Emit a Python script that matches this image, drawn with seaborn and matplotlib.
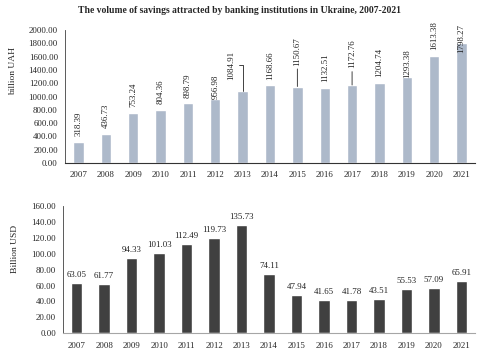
import matplotlib
matplotlib.use("Agg")
import matplotlib.pyplot as plt
import seaborn as sns
import pandas as pd

years = ["2007", "2008", "2009", "2010", "2011", "2012", "2013", "2014",
         "2015", "2016", "2017", "2018", "2019", "2020", "2021"]
uah_values = [318.39, 436.73, 753.24, 804.36, 898.79, 956.98, 1084.91, 1168.66,
              1150.67, 1132.51, 1172.76, 1204.74, 1293.38, 1613.38, 1798.27]
usd_values = [63.05, 61.77, 94.33, 101.03, 112.49, 119.73, 135.73, 74.11,
              47.94, 41.65, 41.78, 43.51, 55.53, 57.09, 65.91]
uah_ticks = [0, 200, 400, 600, 800, 1000, 1200, 1400, 1600, 1800, 2000]
usd_ticks = [0, 20, 40, 60, 80, 100, 120, 140, 160]

title = "The volume of savings attracted by banking institutions in Ukraine, 2007-2021"

sns.set_theme(style="white")
plt.rcParams["font.family"] = ["Liberation Serif", "DejaVu Serif"]

df = pd.DataFrame({"year": years, "uah": uah_values, "usd": usd_values})

fig = plt.figure(figsize=(4.8, 3.53), dpi=100)
ax1 = fig.add_axes([0.135, 0.538, 0.855, 0.377])
ax2 = fig.add_axes([0.131, 0.056, 0.859, 0.360])

sns.barplot(data=df, x="year", y="uah", color="#adb9ca", width=0.38,
            saturation=1, ax=ax1)
sns.barplot(data=df, x="year", y="usd", color="#404040", width=0.42,
            saturation=1, ax=ax2)

fs = 6.4
# label offsets (points): (dx, dy) for the rotated UAH labels
label_offsets = {"2012": (0, 0), "2019": (0, -1), "2021": (0, -7),
                 "2013": (-8, 8), "2015": (0, 15), "2017": (0, 12)}
leader_years = {"2013", "2015", "2017"}
for i, (yr, v) in enumerate(zip(years, uah_values)):
    dx, dy = label_offsets.get(yr, (0, 4))
    kw = {}
    if yr in leader_years:
        kw["arrowprops"] = dict(
            arrowstyle="-", color="#222222", lw=0.6, shrinkA=0, shrinkB=0,
            connectionstyle=("angle,angleA=0,angleB=90,rad=0"
                             if yr == "2013" else "arc3"))
    ax1.annotate(f"{v:.2f}", xy=(i, v), xytext=(dx, dy),
                 textcoords="offset points", rotation=90,
                 ha="center", va="bottom", fontsize=fs, color="#222222",
                 annotation_clip=False, **kw)

for i, v in enumerate(usd_values):
    ax2.annotate(f"{v:.2f}", xy=(i, v), xytext=(0, 3),
                 textcoords="offset points", ha="center", va="bottom",
                 fontsize=fs, color="#222222")

for ax, ticks, lab, lc in ((ax1, uah_ticks, "billion UAH", (-0.117, 0.69)),
                           (ax2, usd_ticks, "Billion USD", (-0.107, 0.66))):
    ax.set_ylim(ticks[0], ticks[-1])
    ax.set_yticks(ticks)
    ax.set_yticklabels([f"{t:.2f}" for t in ticks], fontsize=fs)
    ax.tick_params(axis="x", labelsize=fs, length=0, pad=6)
    ax.tick_params(axis="y", length=0, pad=5)
    ax.set_xlabel("")
    ax.set_ylabel(lab, fontsize=fs + 0.4)
    ax.yaxis.set_label_coords(*lc)
    ax.set_xlim(-0.5, len(years) - 0.5)
    for s in ("top", "right"):
        ax.spines[s].set_visible(False)
    ax.spines["left"].set_color("#404040")
    ax.spines["left"].set_linewidth(0.6)
    ax.spines["bottom"].set_linewidth(0.8)

ax1.spines["bottom"].set_color("#333333")
ax2.spines["bottom"].set_color("#a6a6a6")

fig.text(0.5, 0.97, title, ha="center", va="center", fontsize=6.9,
         fontweight="bold")

fig.savefig("out.png", dpi=100, facecolor="white")
